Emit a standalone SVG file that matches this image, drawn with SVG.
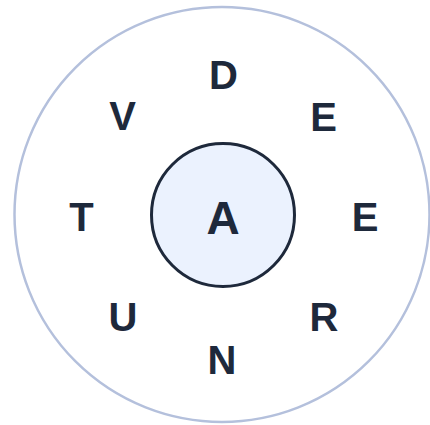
<svg xmlns="http://www.w3.org/2000/svg" width="430" height="425" viewBox="0 0 430 425">
<style>
.lt{font-family:"Liberation Sans",Arial,sans-serif;font-weight:700;font-size:40px;fill:#1e293b;text-anchor:middle}
</style>
<rect width="430" height="425" fill="#ffffff"/>
<g id="outer"><circle cx="222" cy="214.5" r="207.5" fill="none" stroke="#b4c0dc" stroke-width="2.5"/></g>
<g id="connectors"></g>
<g id="center"><circle cx="223" cy="215" r="71.5" fill="#ebf2fe" stroke="#1e293b" stroke-width="3"/>
<text x="223" y="234" class="lt" style="font-size:46px">A</text></g>
<g id="n-D"><text x="223.5" y="89" class="lt">D</text></g>
<g id="n-E1"><text x="323.5" y="130.5" class="lt">E</text></g>
<g id="n-E2"><text x="365" y="230.5" class="lt">E</text></g>
<g id="n-R"><text x="324" y="331" class="lt">R</text></g>
<g id="n-N"><text x="222" y="374" class="lt">N</text></g>
<g id="n-U"><text x="123" y="331" class="lt">U</text></g>
<g id="n-T"><text x="81.5" y="230.5" class="lt">T</text></g>
<g id="n-V"><text x="122.5" y="130" class="lt">V</text></g>
</svg>
